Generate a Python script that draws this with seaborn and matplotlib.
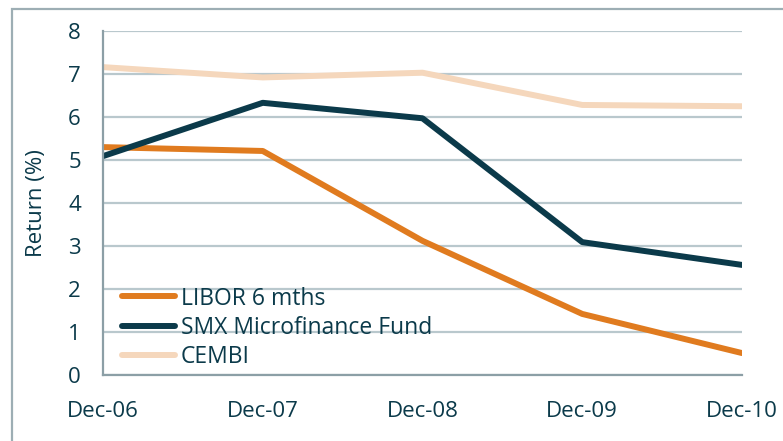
import pandas as pd
import numpy as np
import matplotlib.pyplot as plt
import seaborn as sns
from matplotlib.patches import Rectangle

dates = ["Dec-06", "Dec-07", "Dec-08", "Dec-09", "Dec-10"]
libor = [5.30, 5.21, 3.12, 1.42, 0.51]
smx = [5.09, 6.33, 5.97, 3.09, 2.56]
cembi = [7.16, 6.92, 7.03, 6.28, 6.25]
series_names = ["LIBOR 6 mths", "SMX Microfinance Fund", "CEMBI"]
colors = ["#E07B1F", "#0B3A4A", "#F5D7BC"]

TEXT = "#0B3A4A"
GRID = "#B9C8CD"
SPINE = "#8C9FA6"

df = pd.DataFrame({
    "Date": dates * 3,
    "pos": list(range(len(dates))) * 3,
    "Return": libor + smx + cembi,
    "Series": [series_names[0]] * 5 + [series_names[1]] * 5 + [series_names[2]] * 5,
})

sns.set_style("white")
plt.rcParams["font.family"] = ["Open Sans", "DejaVu Sans"]

fig = plt.figure(figsize=(7.83, 4.41), dpi=100)
ax = fig.add_axes([103 / 783, 66 / 441, (742 - 103) / 783, (375 - 31) / 441])

sns.lineplot(data=df, x="pos", y="Return", hue="Series", hue_order=series_names,
             palette=colors, linewidth=4.3, ax=ax, legend=True)
for line in ax.get_lines():
    line.set_solid_capstyle("round")
    line.set_solid_joinstyle("round")

ax.set_xlim(0, 4)
ax.set_ylim(0, 8)
ax.set_xticks(range(len(dates)))
ax.set_xticklabels(dates)
ax.set_yticks(range(0, 9))
ax.yaxis.grid(True, color=GRID, linewidth=1.6)
ax.set_axisbelow(True)

for s in ["top", "right"]:
    ax.spines[s].set_visible(False)
for s in ["left", "bottom"]:
    ax.spines[s].set_color(SPINE)
    ax.spines[s].set_linewidth(1.6)

ax.tick_params(axis="both", colors=SPINE, labelcolor=TEXT, labelsize=16,
               length=6, width=1.6, direction="out")
ax.tick_params(axis="x", pad=13)
ax.tick_params(axis="y", pad=10)
ax.set_xlabel("")
ax.set_ylabel("Return (%)", color=TEXT, fontsize=16, labelpad=15)

leg = ax.legend(loc="lower left", bbox_to_anchor=(0.005, -0.028), frameon=False,
                fontsize=16.5, handlelength=2.3, handletextpad=0.25,
                labelspacing=0.22, borderaxespad=0.3)
for t in leg.get_texts():
    t.set_color(TEXT)
for h in leg.get_lines():
    h.set_linewidth(4.3)
    h.set_solid_capstyle("round")

fig.patches.append(Rectangle((12 / 783, -0.1), 1.2, 1.1 - 9 / 441,
                             transform=fig.transFigure, fill=False,
                             edgecolor="#9DAEB4", linewidth=1.6))

fig.savefig("out.png", dpi=100)
